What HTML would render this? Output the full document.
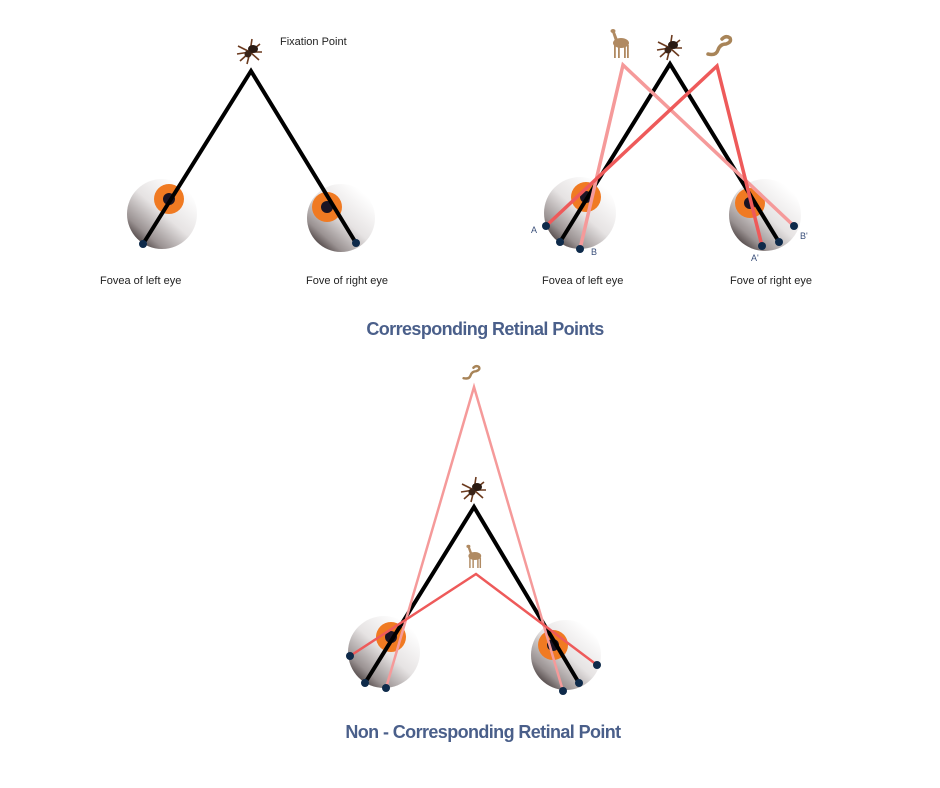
<!DOCTYPE html>
<html><head><meta charset="utf-8"><style>
html,body{margin:0;padding:0;background:#fff;}
svg{display:block;}
.lbl{font-family:"Liberation Sans",sans-serif;font-size:11px;fill:#222;}
.sm{font-family:"Liberation Sans",sans-serif;font-size:9px;fill:#3a4f7a;}
.ttl{font-family:"Liberation Sans",sans-serif;font-size:18px;font-weight:bold;fill:#4a5f8a;letter-spacing:-0.6px;}
</style></head><body>
<svg width="940" height="788" viewBox="0 0 940 788" xmlns="http://www.w3.org/2000/svg">
<defs>
<linearGradient id="eye" x1="0.85" y1="0.15" x2="0.15" y2="0.95">
<stop offset="0" stop-color="#ffffff"/><stop offset="0.45" stop-color="#e6e3e3"/><stop offset="0.8" stop-color="#9a9292"/><stop offset="1" stop-color="#3e3434"/>
</linearGradient>
<g id="spider">
<g stroke="#6b3a1e" stroke-width="1.6" fill="none">
<path d="M0 0 L-12 -6 M0 0 L-13 2 M0 0 L-10 9 M0 0 L-3 12 M0 0 L10 -8 M0 0 L12 0 M0 0 L9 8 M0 0 L2 -13"/>
</g>
<ellipse cx="3" cy="-3" rx="5" ry="4" fill="#2a1a12"/><circle cx="-2" cy="2" r="3.5" fill="#3a2418"/>
</g>
<g id="deer" fill="#b08a62">
<ellipse cx="1" cy="0" rx="8" ry="5"/><rect x="-6" y="2" width="1.8" height="13"/><rect x="-2" y="2" width="1.8" height="13"/><rect x="4" y="2" width="1.8" height="13"/><rect x="7" y="2" width="1.8" height="13"/>
<path d="M-5 -2 L-8 -11 L-5 -11 L-2 -3Z"/><ellipse cx="-7" cy="-12" rx="2.5" ry="2"/>
</g>
<g id="snake" fill="none" stroke="#a88458" stroke-width="3.5" stroke-linecap="round">
<path d="M-12 6 Q-4 8 -2 2 Q0 -4 6 -4 Q12 -6 10 -10 Q6 -13 2 -9"/>
</g>
</defs>

<!-- TOP LEFT -->
<circle cx="162" cy="214" r="35" fill="url(#eye)"/>
<circle cx="169" cy="199" r="15" fill="#f07a22"/><circle cx="169" cy="199" r="6" fill="#1a1424"/>
<circle cx="341" cy="218" r="34" fill="url(#eye)"/>
<circle cx="327" cy="207" r="15" fill="#f07a22"/><circle cx="327" cy="207" r="6" fill="#1a1424"/>
<polyline points="143,244 251,71 356,243" fill="none" stroke="#000" stroke-width="4"/>
<circle cx="143" cy="244" r="4" fill="#0e2a4a"/><circle cx="356" cy="243" r="4" fill="#0e2a4a"/>
<use href="#spider" x="250" y="52"/>
<text class="lbl" x="280" y="45">Fixation Point</text>
<text class="lbl" x="100" y="284">Fovea of left eye</text>
<text class="lbl" x="306" y="284">Fove of right eye</text>

<!-- TOP RIGHT -->
<circle cx="580" cy="213" r="36" fill="url(#eye)"/>
<circle cx="586" cy="197" r="15" fill="#f07a22"/><circle cx="586" cy="197" r="6" fill="#1a1424"/>
<circle cx="765" cy="215" r="36" fill="url(#eye)"/>
<circle cx="750" cy="203" r="15" fill="#f07a22"/><circle cx="750" cy="203" r="6" fill="#1a1424"/>
<polyline points="560,242 670,64 779,242" fill="none" stroke="#000" stroke-width="4"/>
<polyline points="580,249 623,65 794,226" fill="none" stroke="#f59a9a" stroke-width="3.5"/>
<polyline points="546,226 717,66 762,246" fill="none" stroke="#ee5a5a" stroke-width="3.5"/>
<g fill="#0e2a4a"><circle cx="546" cy="226" r="4"/><circle cx="560" cy="242" r="4"/><circle cx="580" cy="249" r="4"/><circle cx="762" cy="246" r="4"/><circle cx="779" cy="242" r="4"/><circle cx="794" cy="226" r="4"/></g>
<use href="#deer" x="620" y="43"/>
<use href="#spider" x="670" y="48"/>
<use href="#snake" x="720" y="48"/>
<text class="sm" x="531" y="233">A</text>
<text class="sm" x="591" y="255">B</text>
<text class="sm" x="751" y="261">A'</text>
<text class="sm" x="800" y="239">B'</text>
<text class="lbl" x="542" y="284">Fovea of left eye</text>
<text class="lbl" x="730" y="284">Fove of right eye</text>
<text class="ttl" x="485" y="335" text-anchor="middle">Corresponding Retinal Points</text>

<!-- BOTTOM -->
<circle cx="384" cy="652" r="36" fill="url(#eye)"/>
<circle cx="391" cy="637" r="15" fill="#f07a22"/><circle cx="391" cy="637" r="6" fill="#1a1424"/>
<circle cx="566" cy="655" r="35" fill="url(#eye)"/>
<circle cx="553" cy="645" r="15" fill="#f07a22"/><circle cx="553" cy="645" r="6" fill="#1a1424"/>
<polyline points="365,683 474,507 579,683" fill="none" stroke="#000" stroke-width="4"/>
<polyline points="386,688 474,387 563,691" fill="none" stroke="#f59a9a" stroke-width="2.5"/>
<polyline points="350,656 476,574 597,665" fill="none" stroke="#ee5a5a" stroke-width="2.5"/>
<g fill="#0e2a4a"><circle cx="350" cy="656" r="4"/><circle cx="365" cy="683" r="4"/><circle cx="386" cy="688" r="4"/><circle cx="563" cy="691" r="4"/><circle cx="579" cy="683" r="4"/><circle cx="597" cy="665" r="4"/></g>
<use href="#snake" x="472" y="374" transform="translate(472 374) scale(0.7) translate(-472 -374)"/>
<use href="#spider" x="474" y="490"/>
<use href="#deer" x="474" y="556" transform="translate(474 556) scale(0.8) translate(-474 -556)"/>
<text class="ttl" x="483" y="738" text-anchor="middle">Non - Corresponding Retinal Point</text>
</svg>
</body></html>
